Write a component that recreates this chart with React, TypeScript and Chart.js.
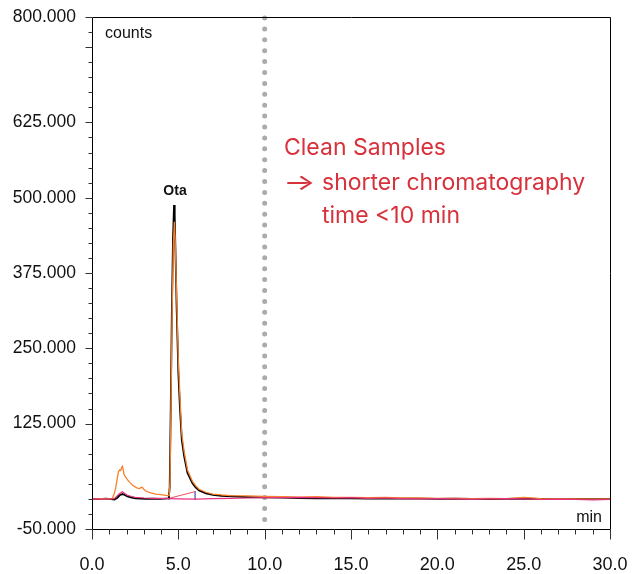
import React, { useEffect, useRef } from "react";
import { Chart, registerables } from "chart.js";

Chart.register(...registerables);

// ---- data (time in min, intensity in counts) ----
const blackTimes = [0, 0.4, 0.8, 1.1, 1.3, 1.47, 1.6, 1.76, 1.9, 2.05, 2.3, 2.53, 2.8, 3.1, 3.5, 3.9, 4.2, 4.4, 4.45, 4.5, 4.56, 4.62, 4.69, 4.75, 4.79, 4.85, 4.9, 4.95, 5.0, 5.09, 5.2, 5.34, 5.53, 5.82, 6.0, 6.2, 6.6, 7.0, 7.5, 8.1, 9, 10, 11, 12, 13, 14, 15, 16, 17, 18, 19, 20, 21, 22, 23, 24, 25, 26, 27, 28, 29, 30];
const blackValues = [0, -500, 500, -500, -1000, 2000, 6000, 8000, 6500, 4000, 2000, 1000, 500, 0, 500, 0, 500, 1000, 1500, 20000, 150000, 300000, 430000, 488000, 470000, 390000, 320000, 265000, 210000, 153000, 98000, 70000, 43000, 26000, 19000, 14000, 9000, 6500, 5000, 4000, 3000, 2500, 2000, 1500, 1000, 1500, 1000, 500, 1000, 500, 500, 0, 500, 0, -500, 0, 500, 0, -500, 0, -500, 0];

const orangeTimes = [0, 0.5, 1.0, 1.18, 1.3, 1.37, 1.45, 1.53, 1.6, 1.66, 1.72, 1.76, 1.81, 1.86, 1.95, 2.05, 2.2, 2.34, 2.5, 2.63, 2.75, 2.85, 2.92, 3.0, 3.11, 3.4, 3.69, 4.0, 4.37, 4.47, 4.52, 4.58, 4.64, 4.71, 4.77, 4.82, 4.88, 4.95, 5.0, 5.1, 5.2, 5.34, 5.53, 5.82, 6.0, 6.2, 6.6, 7.0, 7.5, 8, 9, 10, 11, 12, 13, 14, 15, 16, 17, 18, 19, 20, 21, 22, 23, 24, 25, 26, 27, 28, 29, 30];
const orangeValues = [0, 500, 0, 500, 10000, 18000, 32000, 45000, 48000, 47000, 52000, 54000, 48000, 40000, 36000, 32000, 27000, 23000, 20000, 18000, 17000, 19000, 19000, 16000, 13000, 10000, 8000, 7000, 5500, 5500, 30000, 170000, 310000, 420000, 460000, 430000, 360000, 285000, 230000, 165000, 108000, 78000, 48000, 29000, 22000, 16000, 11000, 8000, 6500, 5500, 5000, 4000, 3500, 3000, 3500, 2500, 2500, 2000, 2500, 1500, 1500, 1000, 1000, 500, 1000, 500, 2500, 500, 0, 0, -500, 0];

const pinkTimes = [0, 0.5, 1.0, 1.3, 1.45, 1.6, 1.76, 1.9, 2.05, 2.3, 2.5, 3.0, 3.5, 4.0, 4.5, 5, 6, 7, 8, 9, 10, 11, 12, 13, 14, 15, 16, 17, 18, 19, 20, 21, 22, 23, 24, 25, 26, 27, 28, 29, 30];
const pinkValues = [0, -500, 0, 500, 5000, 9000, 12000, 9000, 6000, 4000, 2500, 1500, 1000, 1000, 500, 0, -500, 500, 1000, 1500, 2000, 2000, 2500, 2000, 1500, 2000, 1000, 1500, 500, 0, 500, 0, -500, 0, 500, 0, -1000, -500, -1000, -1500, -1000];

const baselineTimes = [4.47, 5.97];
const baselineValues = [1000, 12000];

const markerTimes = [4.47, 4.47, 4.47, 5.97, 5.97, 5.97];
const markerValues = [-2000, 10000, null, -2000, 13000, null];

const yLabelValues = [800000, 625000, 500000, 375000, 250000, 125000, -50000];
const yMajorExtra = [750000];
const xLabelStep = 5;

const peakLabel = "Ota";
const peakTime = 4.75;
const peakValue = 488000;
const dividerTime = 10;

const noteLines = ["Clean Samples", "shorter chromatography", "time <10 min"];

function fmtDe(v: number): string {
  const neg = v < 0;
  const s = String(Math.abs(v));
  let out = "";
  for (let i = 0; i < s.length; i++) {
    if (i > 0 && (s.length - i) % 3 === 0) out += ".";
    out += s[i];
  }
  return (neg ? "-" : "") + out;
}

function pts(t: number[], v: (number | null)[]) {
  return t.map((x, i) => ({ x, y: v[i] }));
}

function zeroPad(s: any) {
  s.paddingTop = 0;
  s.paddingBottom = 0;
  s.paddingLeft = 0;
  s.paddingRight = 0;
}

const overlay = {
  id: "overlay",
  beforeDatasetsDraw(chart: any) {
    const { ctx, chartArea, scales } = chart;
    const x = scales.x.getPixelForValue(dividerTime);
    ctx.save();
    ctx.strokeStyle = "#ababab";
    ctx.lineWidth = 5;
    ctx.lineCap = "round";
    ctx.setLineDash([0, 10.9]);
    ctx.beginPath();
    ctx.moveTo(x, chartArea.top + 1);
    ctx.lineTo(x, chartArea.bottom + 1);
    ctx.stroke();
    ctx.restore();
  },
  afterDraw(chart: any) {
    const { ctx, chartArea, scales } = chart;
    const { left, right, top, bottom } = chartArea;
    ctx.save();
    ctx.strokeStyle = "#000";
    ctx.lineWidth = 1;
    // frame
    ctx.beginPath();
    ctx.moveTo(Math.round(left) + 0.5, Math.round(top) + 0.5);
    ctx.lineTo(Math.round(right) + 0.5, Math.round(top) + 0.5);
    ctx.lineTo(Math.round(right) + 0.5, Math.round(bottom) + 0.5);
    ctx.lineTo(Math.round(left) + 0.5, Math.round(bottom) + 0.5);
    ctx.closePath();
    ctx.stroke();
    // y ticks
    ctx.strokeStyle = "#333";
    const lx = Math.round(left) + 0.5;
    scales.y.ticks.forEach((t: any) => {
      const y = Math.round(scales.y.getPixelForValue(t.value)) + 0.5;
      const major = yLabelValues.includes(t.value) || yMajorExtra.includes(t.value);
      ctx.beginPath();
      ctx.moveTo(lx, y);
      ctx.lineTo(lx - (major ? 7 : 4), y);
      ctx.stroke();
    });
    // x ticks
    const by = Math.round(bottom) + 0.5;
    scales.x.ticks.forEach((t: any) => {
      const x = Math.round(scales.x.getPixelForValue(t.value)) + 0.5;
      const major = Math.abs(t.value % xLabelStep) < 1e-6;
      ctx.beginPath();
      ctx.moveTo(x, by);
      ctx.lineTo(x, by + (major ? 10 : 5));
      ctx.stroke();
    });
    // texts
    ctx.fillStyle = "#111";
    ctx.textBaseline = "middle";
    ctx.font = "16px 'Liberation Sans', Arial, sans-serif";
    ctx.textAlign = "left";
    ctx.fillText("counts", left + 13, top + 17);
    ctx.textAlign = "right";
    ctx.fillText("min", right - 8, bottom - 11);
    ctx.textAlign = "center";
    ctx.font = "bold 14px 'Liberation Sans', Arial, sans-serif";
    ctx.fillText(peakLabel, scales.x.getPixelForValue(peakTime) + 1, scales.y.getPixelForValue(peakValue) - 14);
    // note
    ctx.fillStyle = "#d7313b";
    ctx.font = "23px Inter, 'Noto Sans', sans-serif";
    ctx.textAlign = "left";
    ctx.fillText(noteLines[0], 284, 148);
    ctx.save();
    ctx.translate(283, 183);
    ctx.scale(1.5, 1);
    ctx.fillText("\u2192", 0, 0);
    ctx.restore();
    ctx.fillText(noteLines[1], 322, 183);
    ctx.fillText(noteLines[2], 322, 216);
    ctx.restore();
  },
};

export default function App() {
  const ref = useRef<HTMLCanvasElement>(null);
  useEffect(() => {
    if (!ref.current) return;
    const chart = new Chart(ref.current, {
      type: "line",
      data: {
        datasets: [
          { label: "pink", data: pts(pinkTimes, pinkValues), borderColor: "#e8327f", borderWidth: 1.2 },
          { label: "orange", data: pts(orangeTimes, orangeValues), borderColor: "#f7802a", borderWidth: 1.3 },
          { label: "black", data: pts(blackTimes, blackValues), borderColor: "#000000", borderWidth: 1.8 },
          { label: "baseline", data: pts(baselineTimes, baselineValues), borderColor: "#f0505e", borderWidth: 1 },
          { label: "markers", data: pts(markerTimes, markerValues), borderColor: "#5b73c4", borderWidth: 1.5, spanGaps: false },
        ] as any,
      },
      options: {
        animation: false,
        responsive: false,
        devicePixelRatio: 1,
        parsing: false as any,
        elements: { point: { radius: 0 }, line: { tension: 0 } },
        layout: { padding: { top: 17, right: 23, left: 0, bottom: 0 } },
        plugins: { legend: { display: false }, tooltip: { enabled: false } },
        scales: {
          x: {
            type: "linear",
            min: 0,
            max: 30,
            grid: { display: false },
            border: { display: false },
            afterFit: (s: any) => { s.height = 45; zeroPad(s); },
            ticks: {
              stepSize: 1,
              autoSkip: false,
              maxRotation: 0,
              padding: 17,
              color: "#111",
              font: { family: "'Liberation Sans', Arial, sans-serif", size: 18 },
              callback: (v: any) => (Math.abs(v % xLabelStep) < 1e-6 ? Number(v).toFixed(1) : ""),
            },
          },
          y: {
            type: "linear",
            min: -50000,
            max: 800000,
            grid: { display: false },
            border: { display: false },
            afterFit: (s: any) => { s.width = 92; zeroPad(s); },
            ticks: {
              stepSize: 25000,
              autoSkip: false,
              maxTicksLimit: 100,
              padding: 8,
              color: "#111",
              font: { family: "'Liberation Sans', Arial, sans-serif", size: 17.5 },
              callback: (v: any) => (yLabelValues.includes(v) ? fmtDe(v) : ""),
            },
          },
        },
      },
      plugins: [overlay],
    });
    return () => chart.destroy();
  }, []);
  return (
    <div style={{ position: "absolute", left: 0, top: 0, width: 633, height: 574 }}>
      <canvas ref={ref} width={633} height={574} />
    </div>
  );
}
